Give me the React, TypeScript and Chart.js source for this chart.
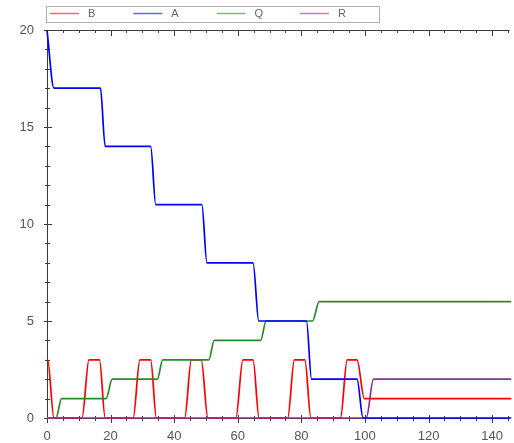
import { useEffect, useRef } from 'react';
import { Chart, registerables } from 'chart.js';

Chart.register(...registerables);

// Series names and line colours, in legend order
const seriesNames = ['B', 'A', 'Q', 'R'];
const seriesColors = ['#ff0000', '#0000ff', '#2a8a2a', '#8e2f8e'];

// [time, amount] samples for each species
const bPoints: [number, number][] = [
  [0, 3], [0.2, 3], [2.2, 0],
  [11.0, 0], [13.2, 3], [16.5, 3], [18.3, 0],
  [27.1, 0], [29.2, 3], [32.6, 3], [34.4, 0],
  [43.3, 0], [45.4, 3], [48.5, 3], [50.6, 0],
  [59.4, 0], [61.6, 3], [64.8, 3], [66.7, 0],
  [75.7, 0], [77.8, 3], [81.1, 3], [83.0, 0],
  [92.3, 0], [94.4, 3], [97.5, 3], [99.8, 1],
  [146, 1],
];
const aPoints: [number, number][] = [
  [0, 20], [2.2, 17], [16.8, 17], [18.3, 14], [32.6, 14], [34.2, 11],
  [48.7, 11], [50.3, 8], [64.8, 8], [66.6, 5], [81.6, 5], [83.2, 2],
  [97.5, 2], [99.4, 0], [146, 0],
];
const qPoints: [number, number][] = [
  [0, 0], [2.8, 0], [4.6, 1], [18.6, 1], [20.5, 2], [34.7, 2], [36.4, 3],
  [50.9, 3], [52.6, 4], [67.2, 4], [68.9, 5], [83.5, 5], [85.6, 6], [146, 6],
];
const rPoints: [number, number][] = [
  [0, 0], [100.4, 0], [102.7, 2], [146, 2],
];

// Axis ticks
const xTickValues = [0, 20, 40, 60, 80, 100, 120, 140];
const yTickValues = [0, 5, 10, 15, 20];
const xMinorStep = 5;
const yMinorStep = 1;
const X_MAX = 145.5;
const Y_MAX = 20;

const allPoints = [bPoints, aPoints, qPoints, rPoints];
// lower order is painted on top
const drawOrder = [3, 0, 2, 1];

const FONT = 'Liberation Sans, Arial, Helvetica, sans-serif';

const axesPlugin = {
  id: 'boxAxes',
  beforeDatasetsDraw(chart: any) {
    const { ctx, chartArea } = chart;
    const { left, right, top, bottom } = chartArea;
    const xs = chart.scales.x;
    const ys = chart.scales.y;
    ctx.save();
    ctx.strokeStyle = '#3a3a3a';
    ctx.lineWidth = 1;
    ctx.beginPath();
    // bottom, top and left border lines
    ctx.moveTo(left, bottom + 0.5);
    ctx.lineTo(right, bottom + 0.5);
    ctx.moveTo(left, top + 0.5);
    ctx.lineTo(right, top + 0.5);
    ctx.moveTo(left + 0.5, top);
    ctx.lineTo(left + 0.5, bottom + 1);
    ctx.stroke();

    ctx.beginPath();
    for (let v = 0; v <= X_MAX + 1e-6; v += xMinorStep) {
      const px = Math.round(xs.getPixelForValue(v)) + 0.5;
      const major = v % 20 === 0;
      ctx.moveTo(px, bottom - (major ? 3 : 2));
      ctx.lineTo(px, bottom + (major ? 5 : 3));
      ctx.moveTo(px, top);
      ctx.lineTo(px, top + (major ? 6 : 3));
    }
    for (let v = 0; v <= Y_MAX + 1e-6; v += yMinorStep) {
      const py = Math.round(ys.getPixelForValue(v)) + 0.5;
      const major = v % 5 === 0;
      ctx.moveTo(left - (major ? 3 : 2), py);
      ctx.lineTo(left + (major ? 5 : 3), py);
    }
    ctx.stroke();
    ctx.restore();
  },
};

const legendPlugin = {
  id: 'boxLegend',
  afterDraw(chart: any) {
    const { ctx } = chart;
    ctx.save();
    ctx.strokeStyle = '#b0b0b0';
    ctx.lineWidth = 1;
    ctx.strokeRect(46.5, 6.5, 333, 16);
    ctx.font = `11px ${FONT}`;
    ctx.textBaseline = 'middle';
    ctx.textAlign = 'left';
    seriesNames.forEach((name, i) => {
      const x0 = 50 + i * 83.3;
      ctx.globalAlpha = 0.6;
      ctx.strokeStyle = seriesColors[i];
      ctx.lineWidth = 1.5;
      ctx.beginPath();
      ctx.moveTo(x0, 13.5);
      ctx.lineTo(x0 + 29, 13.5);
      ctx.stroke();
      ctx.globalAlpha = 1;
      ctx.fillStyle = '#666';
      ctx.fillText(name, x0 + 38, 14);
    });
    ctx.restore();
  },
};

export default function App() {
  const canvasRef = useRef<HTMLCanvasElement | null>(null);

  useEffect(() => {
    const canvas = canvasRef.current;
    if (!canvas) return;
    const chart = new Chart(canvas, {
      type: 'line',
      data: {
        datasets: seriesNames.map((name, i) => ({
          label: name,
          data: allPoints[i].map(([x, y]) => ({ x, y })),
          borderColor: seriesColors[i],
          backgroundColor: seriesColors[i],
          borderWidth: 1.7,
          pointRadius: 0,
          fill: false,
          cubicInterpolationMode: 'monotone' as const,
          order: drawOrder[i],
          clip: 6,
        })),
      },
      options: {
        animation: false,
        responsive: false,
        events: [],
        layout: { padding: { top: 30, left: 0, right: 0, bottom: 0 } },
        plugins: {
          legend: { display: false },
          tooltip: { enabled: false },
          title: { display: false },
        },
        scales: {
          x: {
            type: 'linear',
            min: 0,
            max: X_MAX,
            afterBuildTicks: (s: any) => {
              s.ticks = xTickValues.map((v) => ({ value: v }));
            },
            afterFit: (s: any) => {
              s.height = 25;
            },
            grid: { display: false, drawTicks: false },
            border: { display: false },
            ticks: {
              padding: 11,
              color: '#555',
              font: { family: FONT, size: 13 },
              maxRotation: 0,
              autoSkip: false,
            },
          },
          y: {
            type: 'linear',
            min: 0,
            max: Y_MAX,
            afterBuildTicks: (s: any) => {
              s.ticks = yTickValues.map((v) => ({ value: v }));
            },
            afterFit: (s: any) => {
              s.width = 47;
            },
            grid: { display: false, drawTicks: false },
            border: { display: false },
            ticks: {
              padding: 13,
              color: '#555',
              font: { family: FONT, size: 13 },
              autoSkip: false,
            },
          },
        },
      },
      plugins: [axesPlugin, legendPlugin],
    });
    return () => chart.destroy();
  }, []);

  return (
    <div style={{ position: 'fixed', left: 0, top: 0, width: 514, height: 443, background: '#fff' }}>
      <canvas ref={canvasRef} width={514} height={443} style={{ display: 'block' }} />
    </div>
  );
}
